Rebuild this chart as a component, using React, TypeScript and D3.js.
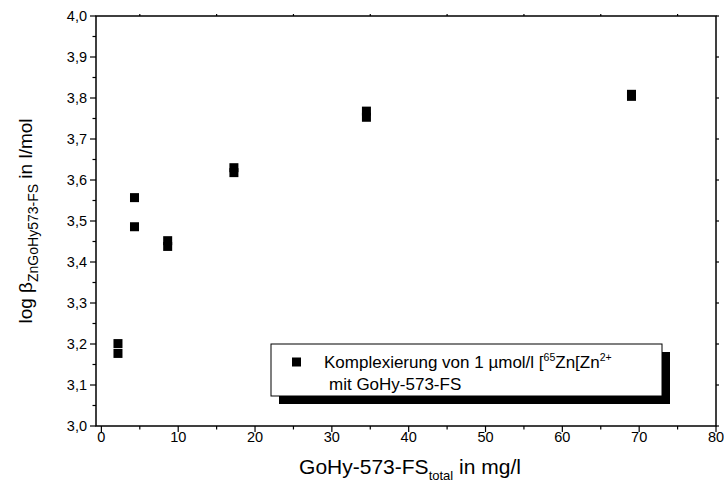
import React from "react";
import * as d3 from "d3";

// Total concentration of GoHy-573-FS (mg/l)
const concentrations = [2.16, 2.16, 4.31, 4.31, 8.63, 8.63, 17.25, 17.25, 34.5, 34.5, 69, 69];
// log beta values for the Zn–GoHy-573-FS complex (l/mol)
const logBeta = [3.201, 3.177, 3.557, 3.486, 3.452, 3.438, 3.630, 3.618, 3.768, 3.753, 3.809, 3.804];

const xMajorTicks = [0, 10, 20, 30, 40, 50, 60, 70, 80];
const xMinorTicks = [5, 15, 25, 35, 45, 55, 65, 75];
const yMajorTicks = [3.0, 3.1, 3.2, 3.3, 3.4, 3.5, 3.6, 3.7, 3.8, 3.9, 4.0];
const yMinorTicks = [3.05, 3.15, 3.25, 3.35, 3.45, 3.55, 3.65, 3.75, 3.85, 3.95];

const W = 724;
const H = 499;
const margin = { left: 96, right: 8, top: 16, bottom: 73 };
const FONT = "Arial, 'Liberation Sans', sans-serif";

export default function App() {
  const x = d3.scaleLinear().domain([-0.7, 80]).range([margin.left, W - margin.right]);
  const y = d3.scaleLinear().domain([3.0, 4.0]).range([H - margin.bottom, margin.top]);
  const [x0, x1] = x.range();
  const [y0, y1] = y.range();
  const fmt = (v: number) => v.toFixed(1).replace(".", ",");
  const sq = 9;

  const lx = 271, ly = 344, lw = 391, lh = 52, sh = 8;

  return (
    <svg width={W} height={H} style={{ position: "absolute", left: 0, top: 0 }} fontFamily={FONT}>
      <rect width={W} height={H} fill="#fff" />
      {/* frame */}
      <rect x={x0} y={y1} width={x1 - x0} height={y0 - y1} fill="none" stroke="#000" strokeWidth={1.5} />

      {/* bottom axis */}
      {xMajorTicks.map((t) => (
        <g key={"xm" + t}>
          <line x1={x(t)} x2={x(t)} y1={y0} y2={y0 + 6} stroke="#000" strokeWidth={1.2} />
          <text x={x(t)} y={y0 + 16} fontSize={14.5} textAnchor="middle">{t}</text>
        </g>
      ))}
      {xMinorTicks.map((t) => (
        <g key={"xn" + t}>
          <line x1={x(t)} x2={x(t)} y1={y0} y2={y0 + 3.5} stroke="#000" strokeWidth={1.2} />
          <line x1={x(t)} x2={x(t)} y1={y1} y2={y1 - 2} stroke="#000" strokeWidth={1.2} />
        </g>
      ))}

      {/* left axis */}
      {yMajorTicks.map((t) => (
        <g key={"ym" + t}>
          <line x1={x0 - 6} x2={x0} y1={y(t)} y2={y(t)} stroke="#000" strokeWidth={1.2} />
          <line x1={x1} x2={x1 + 3} y1={y(t)} y2={y(t)} stroke="#000" strokeWidth={1.2} />
          <text x={x0 - 9} y={y(t) + 5} fontSize={14.5} textAnchor="end">{fmt(t)}</text>
        </g>
      ))}
      {yMinorTicks.map((t) => (
        <line key={"yn" + t} x1={x0 - 3.5} x2={x0} y1={y(t)} y2={y(t)} stroke="#000" strokeWidth={1.2} />
      ))}

      {/* data */}
      {concentrations.map((c, i) => (
        <rect key={i} x={x(c) - sq / 2} y={y(logBeta[i]) - sq / 2} width={sq} height={sq} fill="#000" />
      ))}

      {/* legend */}
      <rect x={lx + sh} y={ly + sh} width={lw} height={lh} fill="#000" />
      <rect x={lx} y={ly} width={lw} height={lh} fill="#fff" stroke="#000" strokeWidth={1} />
      <rect x={292} y={357.5} width={sq} height={sq} fill="#000" />
      <text x={324} y={368} fontSize={17}>
        Komplexierung von 1 µmol/l [<tspan fontSize={10.5} dy={-7}>65</tspan>
        <tspan dy={7}>Zn[Zn</tspan>
        <tspan fontSize={10.5} dy={-7}>2+</tspan>
      </text>
      <text x={329} y={390} fontSize={17}>mit GoHy-573-FS</text>

      {/* axis titles */}
      <text x={410} y={474} fontSize={21} textAnchor="middle">
        GoHy-573-FS<tspan fontSize={13} dy={6}>total</tspan>
        <tspan dy={-6}> in mg/l</tspan>
      </text>
      <text transform={`translate(32, 221) rotate(-90)`} fontSize={19} textAnchor="middle">
        log β<tspan fontSize={14} dy={6}>ZnGoHy573-FS</tspan>
        <tspan dy={-6}> in l/mol</tspan>
      </text>
    </svg>
  );
}
